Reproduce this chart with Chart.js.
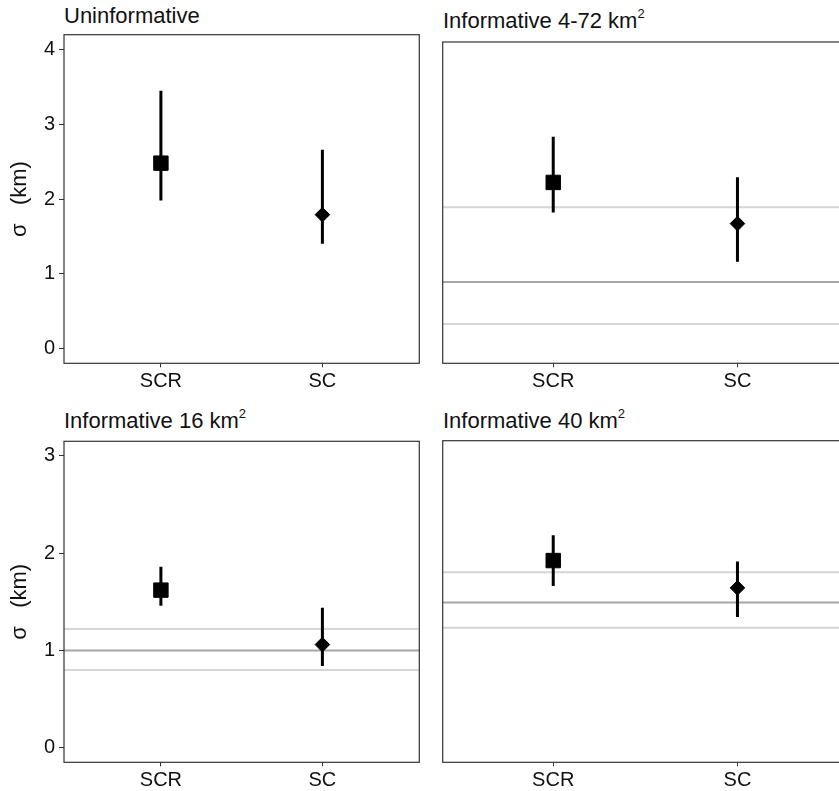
<!DOCTYPE html>
<html>
<head>
<meta charset="utf-8">
<script src="https://cdn.jsdelivr.net/npm/chart.js@4.4.1/dist/chart.umd.min.js"></script>
<style>
  body { margin: 0; background: #fff; width: 839px; height: 791px; overflow: hidden; position: relative; }
  canvas { position: absolute; }
  .ttl { position: absolute; font-family: 'Liberation Sans', Arial, sans-serif; font-size: 22px; line-height: 22px; color: #111; white-space: nowrap; }
  .ttl span { font-size: 13px; position: relative; top: -10px; }
</style>
</head>
<body>
<div class="ttl" style="left:64px; top:5px;">Uninformative</div>
<div class="ttl" style="left:443px; top:10px;">Informative 4-72 km<span>2</span></div>
<div class="ttl" style="left:64px; top:410px;">Informative 16 km<span>2</span></div>
<div class="ttl" style="left:443px; top:410px;">Informative 40 km<span>2</span></div>

<canvas id="pUninf" width="420" height="395" style="left:0; top:0;"></canvas>
<canvas id="pInf472" width="430" height="395" style="left:420px; top:0;"></canvas>
<canvas id="pInf16" width="420" height="391" style="left:0; top:400px;"></canvas>
<canvas id="pInf40" width="430" height="391" style="left:420px; top:400px;"></canvas>

<script>
// model categories
const categories = ["SCR", "SC"];

// posterior sigma (km): mean and 95% interval, per prior
const uninfMean = [2.48, 1.79];
const uninfLow = [1.98, 1.40];
const uninfHigh = [3.45, 2.66];

const inf472Mean = [2.22, 1.67];
const inf472Low = [1.82, 1.16];
const inf472High = [2.83, 2.29];
const inf472Prior = [0.33, 0.89, 1.89]; // lower, middle, upper

const inf16Mean = [1.62, 1.06];
const inf16Low = [1.46, 0.84];
const inf16High = [1.86, 1.44];
const inf16Prior = [0.80, 1.00, 1.22];

const inf40Mean = [1.92, 1.64];
const inf40Low = [1.66, 1.34];
const inf40High = [2.18, 1.91];
const inf40Prior = [1.23, 1.49, 1.80];

const yTicksTop = [0, 1, 2, 3, 4];
const yTicksBottom = [0, 1, 2, 3];

Chart.defaults.font.family = "'Liberation Sans', Arial, sans-serif";
Chart.defaults.color = "#111";

// draws the full panel frame
const panelBox = {
  id: "panelBox",
  afterDraw(chart) {
    const a = chart.chartArea;
    const ctx = chart.ctx;
    ctx.save();
    ctx.strokeStyle = "#333";
    ctx.lineWidth = 1.2;
    ctx.strokeRect(a.left, a.top, a.right - a.left, a.bottom - a.top);
    ctx.restore();
  },
};

function makePanel(id, mean, low, high, prior, p) {
  const datasets = [];

  datasets.push({
    data: mean.map((v, i) => ({ x: i + 1, y: v })),
    pointStyle: ["rect", "rectRot"],
    pointRadius: [10.2, 7.3],
    backgroundColor: "#000",
    borderColor: "#000",
    borderWidth: 1,
    showLine: false,
    order: 0,
  });

  categories.forEach((c, i) => {
    datasets.push({
      data: [{ x: i + 1, y: low[i] }, { x: i + 1, y: high[i] }],
      showLine: true,
      borderColor: "#000",
      borderWidth: 3,
      pointRadius: 0,
      order: 1,
    });
  });

  if (prior) {
    prior.forEach((v, j) => {
      datasets.push({
        data: [{ x: 0.4, y: v }, { x: 2.6, y: v }],
        showLine: true,
        borderColor: j == 1 ? "#a6a6a6" : "#d6d6d6",
        borderWidth: 2,
        pointRadius: 0,
        order: 2,
      });
    });
  }

  new Chart(document.getElementById(id), {
    type: "scatter",
    data: { datasets: datasets },
    options: {
      responsive: false,
      animation: false,
      layout: {
        autoPadding: false,
        padding: { top: p.top, left: p.left, right: p.right, bottom: 0 },
      },
      plugins: { legend: { display: false }, tooltip: { enabled: false } },
      scales: {
        x: {
          type: "linear",
          min: 0.4,
          max: 2.6,
          afterBuildTicks: (axis) => {
            axis.ticks = categories.map((c, i) => ({ value: i + 1 }));
          },
          afterFit: (axis) => {
            axis.height = p.xh;
            axis.paddingLeft = 0;
            axis.paddingRight = 0;
          },
          ticks: {
            callback: (v) => categories[v - 1],
            font: { size: 20 },
            color: "#111",
            padding: 2,
            maxRotation: 0,
            autoSkip: false,
          },
          grid: { drawOnChartArea: false, tickLength: 4, color: "#333" },
          border: { display: false },
        },
        y: {
          display: p.showY,
          min: p.ymin,
          max: p.ymax,
          afterBuildTicks: (axis) => {
            axis.ticks = p.yticks.map((v) => ({ value: v }));
          },
          afterFit: (axis) => {
            axis.width = p.showY ? 64 : 0;
          },
          ticks: { font: { size: 20 }, color: "#111", padding: 4 },
          grid: { drawOnChartArea: false, tickLength: 5, color: "#333" },
          border: { display: false },
          title: {
            display: true,
            text: "σ   (km)",
            font: { size: 22 },
            color: "#111",
            padding: { top: 7, bottom: 0 },
          },
        },
      },
    },
    plugins: [panelBox],
  });
}

makePanel("pUninf", uninfMean, uninfLow, uninfHigh, null,
  { top: 34.7, left: 0, right: 0.7, xh: 31.7, showY: true, ymin: -0.2, ymax: 4.2, yticks: yTicksTop });
makePanel("pInf472", inf472Mean, inf472Low, inf472High, inf472Prior,
  { top: 42, left: 22.7, right: 2, xh: 31.7, showY: false, ymin: -0.195, ymax: 4.095, yticks: yTicksTop });
makePanel("pInf16", inf16Mean, inf16Low, inf16High, inf16Prior,
  { top: 41.3, left: 0, right: 0.7, xh: 28.7, showY: true, ymin: -0.15, ymax: 3.15, yticks: yTicksBottom });
makePanel("pInf40", inf40Mean, inf40Low, inf40High, inf40Prior,
  { top: 40.7, left: 22.7, right: 2, xh: 28.7, showY: false, ymin: -0.15, ymax: 3.15, yticks: yTicksBottom });
</script>
</body>
</html>
